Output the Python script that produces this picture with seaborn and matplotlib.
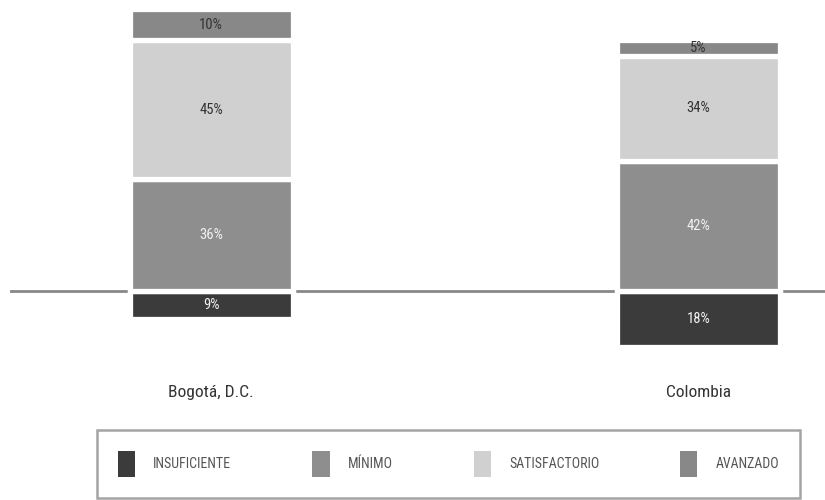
import numpy as np
import pandas as pd
import matplotlib
matplotlib.use("Agg")
import matplotlib.pyplot as plt
from matplotlib.patches import Patch
import seaborn as sns

# Results by performance level
regions = ["Bogotá, D.C.", "Colombia"]
levels = ["INSUFICIENTE", "MÍNIMO", "SATISFACTORIO", "AVANZADO"]
insuficiente = [9, 18]
minimo = [36, 42]
satisfactorio = [45, 34]
avanzado = [10, 5]

level_colors = ["#3b3b3b", "#8e8e8e", "#d0d0d0", "#888888"]
label_colors = ["#f2f2f2", "#f2f2f2", "#333333", "#333333"]

sns.set_theme(style="white")
plt.rcParams["font.family"] = ["Roboto Condensed", "Roboto", "DejaVu Sans"]

fig = plt.figure(figsize=(8.25, 5), dpi=100)
ax = fig.add_axes([10 / 825, 0.26, 815 / 825, 0.73])

df = pd.DataFrame({
    "region": regions,
    "insuficiente": insuficiente,
    "minimo": minimo,
    "satisfactorio": satisfactorio,
    "avanzado": avanzado,
})

# Insufficient level hangs below the baseline; the rest stack upwards
segments = [
    ("insuficiente", -df["insuficiente"], np.zeros(len(df))),
    ("minimo", df["minimo"], np.zeros(len(df))),
    ("satisfactorio", df["satisfactorio"], df["minimo"].to_numpy()),
    ("avanzado", df["avanzado"], (df["minimo"] + df["satisfactorio"]).to_numpy()),
]

for (col, heights, base), color, tcolor in zip(segments, level_colors, label_colors):
    sns.barplot(x=df["region"], y=heights, bottom=base, color=color,
                saturation=1, width=0.335, edgecolor="white", linewidth=3.8,
                errorbar=None, ax=ax, zorder=2)
    ax.bar_label(ax.containers[-1], labels=[f"{v}%" for v in df[col]],
                 label_type="center", color=tcolor, fontsize=10.5)

ax.axhline(0, color="#888888", lw=2, zorder=1)

ax.set_xlim(-0.413, 1.26)
ax.set_ylim(-25.5, 92.3)
ax.set_xlabel("")
ax.set_ylabel("")
ax.set_yticks([])
ax.set_xticks([0, 1])
ax.set_xticklabels(regions, fontsize=12.5, color="#333333")
ax.tick_params(axis="x", length=0, pad=11)
for s in ax.spines.values():
    s.set_visible(False)

handles = [Patch(facecolor=c, edgecolor="none") for c in level_colors]
leg = fig.legend(handles, levels, ncol=4, loc="lower left",
                 bbox_to_anchor=(97 / 825, 2 / 500, 703 / 825, 70 / 500),
                 mode="expand", borderaxespad=0, frameon=True, fancybox=False,
                 edgecolor="#8e8e8e", handlelength=1.25, handleheight=2.5,
                 handletextpad=1.3, borderpad=1.5, fontsize=10,
                 labelcolor="#555555")
leg.get_frame().set_linewidth(1.8)

fig.savefig("out.png", dpi=100)
